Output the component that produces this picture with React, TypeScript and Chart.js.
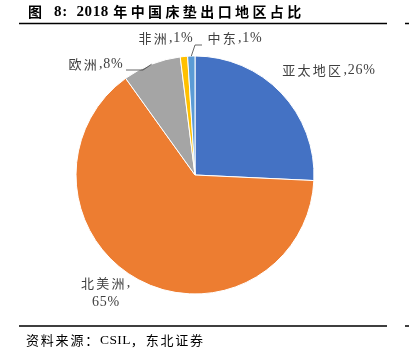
import React, { useEffect, useRef } from "react";
import { Chart, registerables } from "chart.js";

Chart.register(...registerables);

const regions = ["亚太地区", "北美洲", "欧洲", "非洲", "中东"];
const shares = [26, 65, 8, 1, 1];
const shareLabels = ["26%", "65%", "8%", "1%", "1%"];
const colors = ["#4472C4", "#ED7D31", "#A5A5A5", "#FFC000", "#5B9BD5"];
const titleText = "图  8:  2018 年中国床垫出口地区占比";
const sourceText = "资料来源：CSIL，东北证券";

const LATIN = '"Liberation Serif", serif';
const CJK = '"Noto Sans CJK SC", sans-serif';

type Style = { weight: string; cjkSize: number; cjkSp: number; latSize: number; latSp: number };

function splitRuns(t: string) {
  const runs: { s: string; cjk: boolean }[] = [];
  for (const ch of t) {
    const cjk = /[\u3000-\u9fff\uff00-\uffef]/.test(ch);
    const last = runs[runs.length - 1];
    if (last && last.cjk === cjk) last.s += ch;
    else runs.push({ s: ch, cjk });
  }
  return runs;
}

function drawRich(ctx: CanvasRenderingContext2D, t: string, x: number, y: number, st: Style, align: "left" | "center") {
  const runs = splitRuns(t);
  const setFont = (cjk: boolean) => {
    ctx.font = cjk ? `${st.weight} ${st.cjkSize}px ${CJK}` : `${st.weight} ${st.latSize}px ${LATIN}`;
    (ctx as any).letterSpacing = `${cjk ? st.cjkSp : st.latSp}px`;
  };
  let total = 0;
  const widths = runs.map((r) => {
    setFont(r.cjk);
    const w = ctx.measureText(r.s).width;
    total += w;
    return w;
  });
  let cx = align === "center" ? x - total / 2 : x;
  ctx.textAlign = "left";
  ctx.textBaseline = "middle";
  runs.forEach((r, i) => {
    setFont(r.cjk);
    ctx.fillText(r.s, cx, y);
    cx += widths[i];
  });
}

// label layout: text center, and optional leader elbow points
const labelLayout = [
  { lines: (i: number) => [`${regions[i]},${shareLabels[i]}`], x: 329, y: 70, leader: null as null | number[][] },
  { lines: (i: number) => [`${regions[i]},`, shareLabels[i]], x: 106, y: 293, leader: null },
  { lines: (i: number) => [`${regions[i]},${shareLabels[i]}`], x: 96, y: 64, leader: [[143, 70], [126, 70]] },
  { lines: (i: number) => [`${regions[i]},${shareLabels[i]}`], x: 166, y: 38, leader: null },
  { lines: (i: number) => [`${regions[i]},${shareLabels[i]}`], x: 235, y: 38, leader: [[195, 45], [202, 45]] },
];

const labelStyle: Style = { weight: "normal", cjkSize: 13, cjkSp: 2.3, latSize: 14, latSp: 0.8 };
const titleStyle: Style = { weight: "bold", cjkSize: 14, cjkSp: 3.4, latSize: 15, latSp: 0.6 };
const sourceStyle: Style = { weight: "normal", cjkSize: 13, cjkSp: 1.8, latSize: 13.5, latSp: 0.4 };

const decorPlugin = {
  id: "decor",
  afterDraw(chart: any) {
    const ctx = chart.ctx as CanvasRenderingContext2D;
    ctx.save();
    ctx.fillStyle = "#000";
    drawRich(ctx, titleText, 28, 12, titleStyle, "left");
    ctx.strokeStyle = "#000";
    ctx.lineWidth = 1.5;
    ctx.beginPath();
    ctx.moveTo(19, 23.5);
    ctx.lineTo(387, 23.5);
    ctx.moveTo(405, 23.5);
    ctx.lineTo(409, 23.5);
    ctx.moveTo(19, 326);
    ctx.lineTo(387, 326);
    ctx.moveTo(405, 326);
    ctx.lineTo(409, 326);
    ctx.stroke();
    ctx.fillStyle = "#000";
    drawRich(ctx, sourceText, 26, 340, sourceStyle, "left");

    const meta = chart.getDatasetMeta(0);
    ctx.fillStyle = "#404040";
    labelLayout.forEach((lay, i) => {
      const lines = lay.lines(i);
      lines.forEach((t, k) => {
        drawRich(ctx, t, lay.x, lay.y + (k - (lines.length - 1) / 2) * 19, labelStyle, "center");
      });
      if (lay.leader) {
        const arc = meta.data[i];
        const p = arc.getProps(["x", "y", "startAngle", "endAngle", "outerRadius"], true);
        const mid = (p.startAngle + p.endAngle) / 2;
        const sx = p.x + Math.cos(mid) * p.outerRadius;
        const sy = p.y + Math.sin(mid) * p.outerRadius;
        ctx.strokeStyle = "#404040";
        ctx.lineWidth = 0.8;
        ctx.beginPath();
        ctx.moveTo(sx, sy);
        lay.leader.forEach(([lx, ly]) => ctx.lineTo(lx, ly));
        ctx.stroke();
      }
    });
    ctx.restore();
  },
};

export default function App() {
  const ref = useRef<HTMLCanvasElement>(null);
  useEffect(() => {
    document.body.style.margin = "0";
    const chart = new Chart(ref.current!, {
      type: "pie",
      data: {
        labels: regions,
        datasets: [
          {
            data: shares,
            backgroundColor: colors,
            borderColor: "#fff",
            borderWidth: 1,
          },
        ],
      },
      options: {
        animation: false,
        responsive: false,
        radius: 119,
        layout: { padding: { left: 76, right: 95, top: 56, bottom: 68 } },
        plugins: { legend: { display: false }, tooltip: { enabled: false } },
      } as any,
      plugins: [decorPlugin],
    });
    return () => chart.destroy();
  }, []);
  return (
    <div style={{ width: 409, height: 362, background: "#fff" }}>
      <canvas ref={ref} width={409} height={362} style={{ width: 409, height: 362, display: "block" }} />
    </div>
  );
}
